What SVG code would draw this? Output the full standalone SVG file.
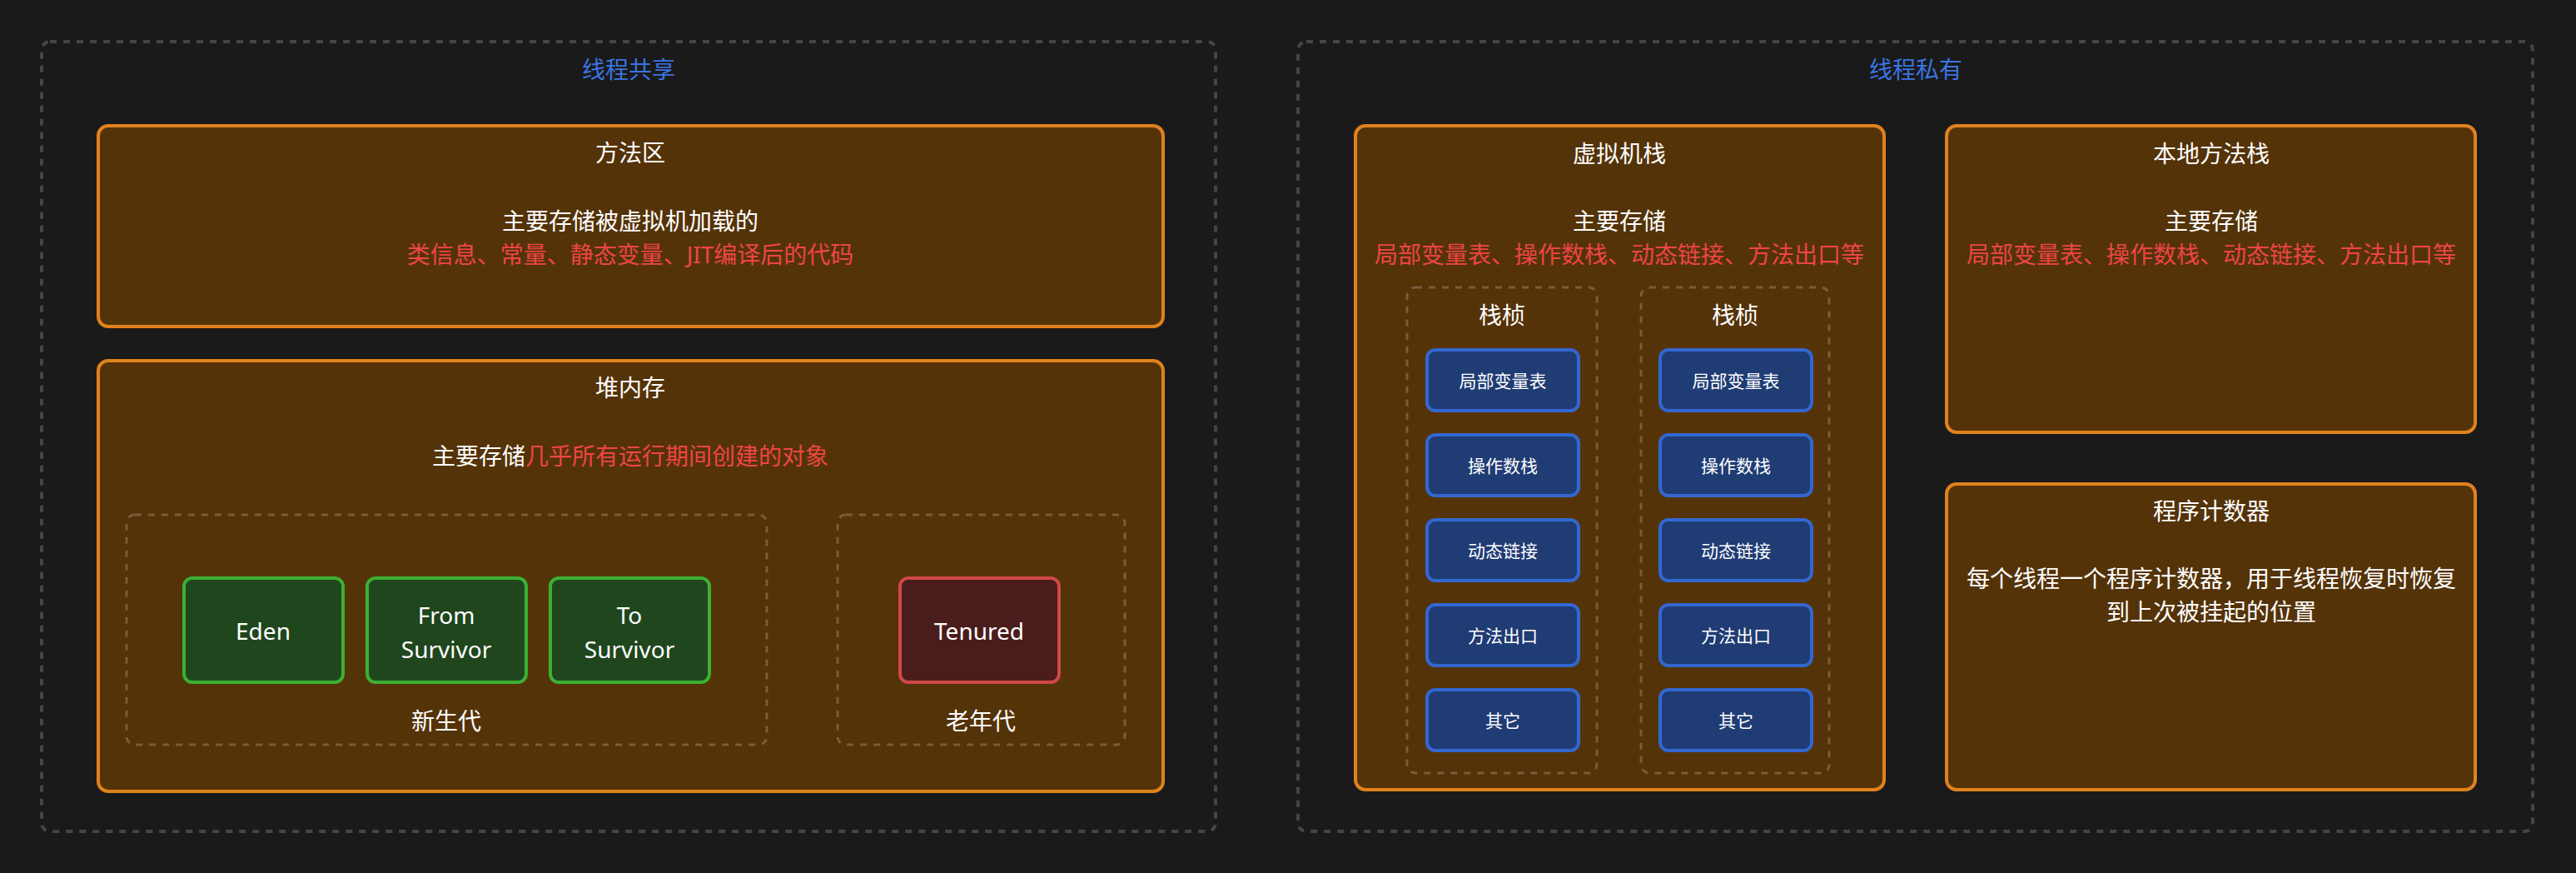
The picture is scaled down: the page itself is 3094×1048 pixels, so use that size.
<svg xmlns="http://www.w3.org/2000/svg" width="3094" height="1048" viewBox="0 0 3094 1048">
<style>
text{font-family:"Noto Sans","Noto Sans CJK SC",sans-serif;fill:#ffffff;text-anchor:middle;dominant-baseline:central;font-size:28px}
.grp{fill:none;stroke:#454545;stroke-width:4;stroke-dasharray:8 8}
.area{fill:#553309;stroke:#e0821c;stroke-width:4}
.sub{fill:none;stroke:#7a5c3c;stroke-width:3;stroke-dasharray:8 8}
.green{fill:#20461d;stroke:#3cb034;stroke-width:4}
.redn{fill:#4b1c1c;stroke:#d04848;stroke-width:4}
.blue{fill:#1f3c74;stroke:#3367d0;stroke-width:4}
.t{fill:#3b74e2}
.r{fill:#ee4545}
.s{font-size:21px}
</style>
<rect width="3094" height="1048" fill="#1a1a1a"/>
<g id="shared">
<rect class="grp" x="50" y="50" width="1410" height="948" rx="10"/>
<text class="t" x="755" y="83">线程共享</text>
</g>
<g id="private">
<rect class="grp" x="1559" y="50" width="1483" height="948" rx="10"/>
<text class="t" x="2301" y="83">线程私有</text>
</g>
<g id="method-area">
<rect class="area" x="118" y="151" width="1279" height="241" rx="12"/>
<text x="757" y="183">方法区</text>
<text x="757" y="265">主要存储被虚拟机加载的</text>
<text class="r" x="757" y="305">类信息、常量、静态变量、JIT编译后的代码</text>
</g>
<g id="heap">
<rect class="area" x="118" y="433" width="1279" height="517" rx="12"/>
<text x="757" y="465">堆内存</text>
<text x="757" y="547">主要存储<tspan class="r">几乎所有运行期间创建的对象</tspan></text>
</g>
<g id="young">
<rect class="sub" x="152" y="618" width="769" height="276" rx="10"/>
<text x="536" y="865">新生代</text>
</g>
<g id="old">
<rect class="sub" x="1006" y="618" width="345" height="276" rx="10"/>
<text x="1178" y="865">老年代</text>
</g>
<g id="eden">
<rect class="green" x="221" y="694" width="191" height="125" rx="10"/>
<text x="316" y="757">Eden</text>
</g>
<g id="from-survivor">
<rect class="green" x="441" y="694" width="191" height="125" rx="10"/>
<text x="536" y="738">From</text>
<text x="536" y="779">Survivor</text>
</g>
<g id="to-survivor">
<rect class="green" x="661" y="694" width="191" height="125" rx="10"/>
<text x="756" y="738">To</text>
<text x="756" y="779">Survivor</text>
</g>
<g id="tenured">
<rect class="redn" x="1081" y="694" width="191" height="125" rx="10"/>
<text x="1176" y="757">Tenured</text>
</g>
<g id="vm-stack">
<rect class="area" x="1628" y="151" width="635" height="797" rx="12"/>
<text x="1945" y="184">虚拟机栈</text>
<text x="1945" y="265">主要存储</text>
<text class="r" x="1945" y="305">局部变量表、操作数栈、动态链接、方法出口等</text>
</g>
<g id="frame1">
<rect class="sub" x="1690" y="345" width="228" height="583" rx="10"/>
<text x="1804" y="378">栈桢</text>
</g>
<g id="frame2">
<rect class="sub" x="1971" y="345" width="226" height="583" rx="10"/>
<text x="2084" y="378">栈桢</text>
</g>
<g id="f1-locals"><rect class="blue" x="1714" y="420" width="182" height="73" rx="10"/><text class="s" x="1805" y="457">局部变量表</text></g>
<g id="f1-operand"><rect class="blue" x="1714" y="522" width="182" height="73" rx="10"/><text class="s" x="1805" y="559">操作数栈</text></g>
<g id="f1-dynlink"><rect class="blue" x="1714" y="624" width="182" height="73" rx="10"/><text class="s" x="1805" y="661">动态链接</text></g>
<g id="f1-exit"><rect class="blue" x="1714" y="726" width="182" height="73" rx="10"/><text class="s" x="1805" y="763">方法出口</text></g>
<g id="f1-other"><rect class="blue" x="1714" y="828" width="182" height="73" rx="10"/><text class="s" x="1805" y="865">其它</text></g>
<g id="f2-locals"><rect class="blue" x="1994" y="420" width="182" height="73" rx="10"/><text class="s" x="2085" y="457">局部变量表</text></g>
<g id="f2-operand"><rect class="blue" x="1994" y="522" width="182" height="73" rx="10"/><text class="s" x="2085" y="559">操作数栈</text></g>
<g id="f2-dynlink"><rect class="blue" x="1994" y="624" width="182" height="73" rx="10"/><text class="s" x="2085" y="661">动态链接</text></g>
<g id="f2-exit"><rect class="blue" x="1994" y="726" width="182" height="73" rx="10"/><text class="s" x="2085" y="763">方法出口</text></g>
<g id="f2-other"><rect class="blue" x="1994" y="828" width="182" height="73" rx="10"/><text class="s" x="2085" y="865">其它</text></g>
<g id="native-stack">
<rect class="area" x="2338" y="151" width="635" height="368" rx="12"/>
<text x="2656" y="184">本地方法栈</text>
<text x="2656" y="265">主要存储</text>
<text class="r" x="2656" y="305">局部变量表、操作数栈、动态链接、方法出口等</text>
</g>
<g id="pc-register">
<rect class="area" x="2338" y="581" width="635" height="367" rx="12"/>
<text x="2656" y="613">程序计数器</text>
<text x="2656" y="694">每个线程一个程序计数器，用于线程恢复时恢复</text>
<text x="2656" y="734">到上次被挂起的位置</text>
</g>
<g id="connectors"></g>
</svg>
